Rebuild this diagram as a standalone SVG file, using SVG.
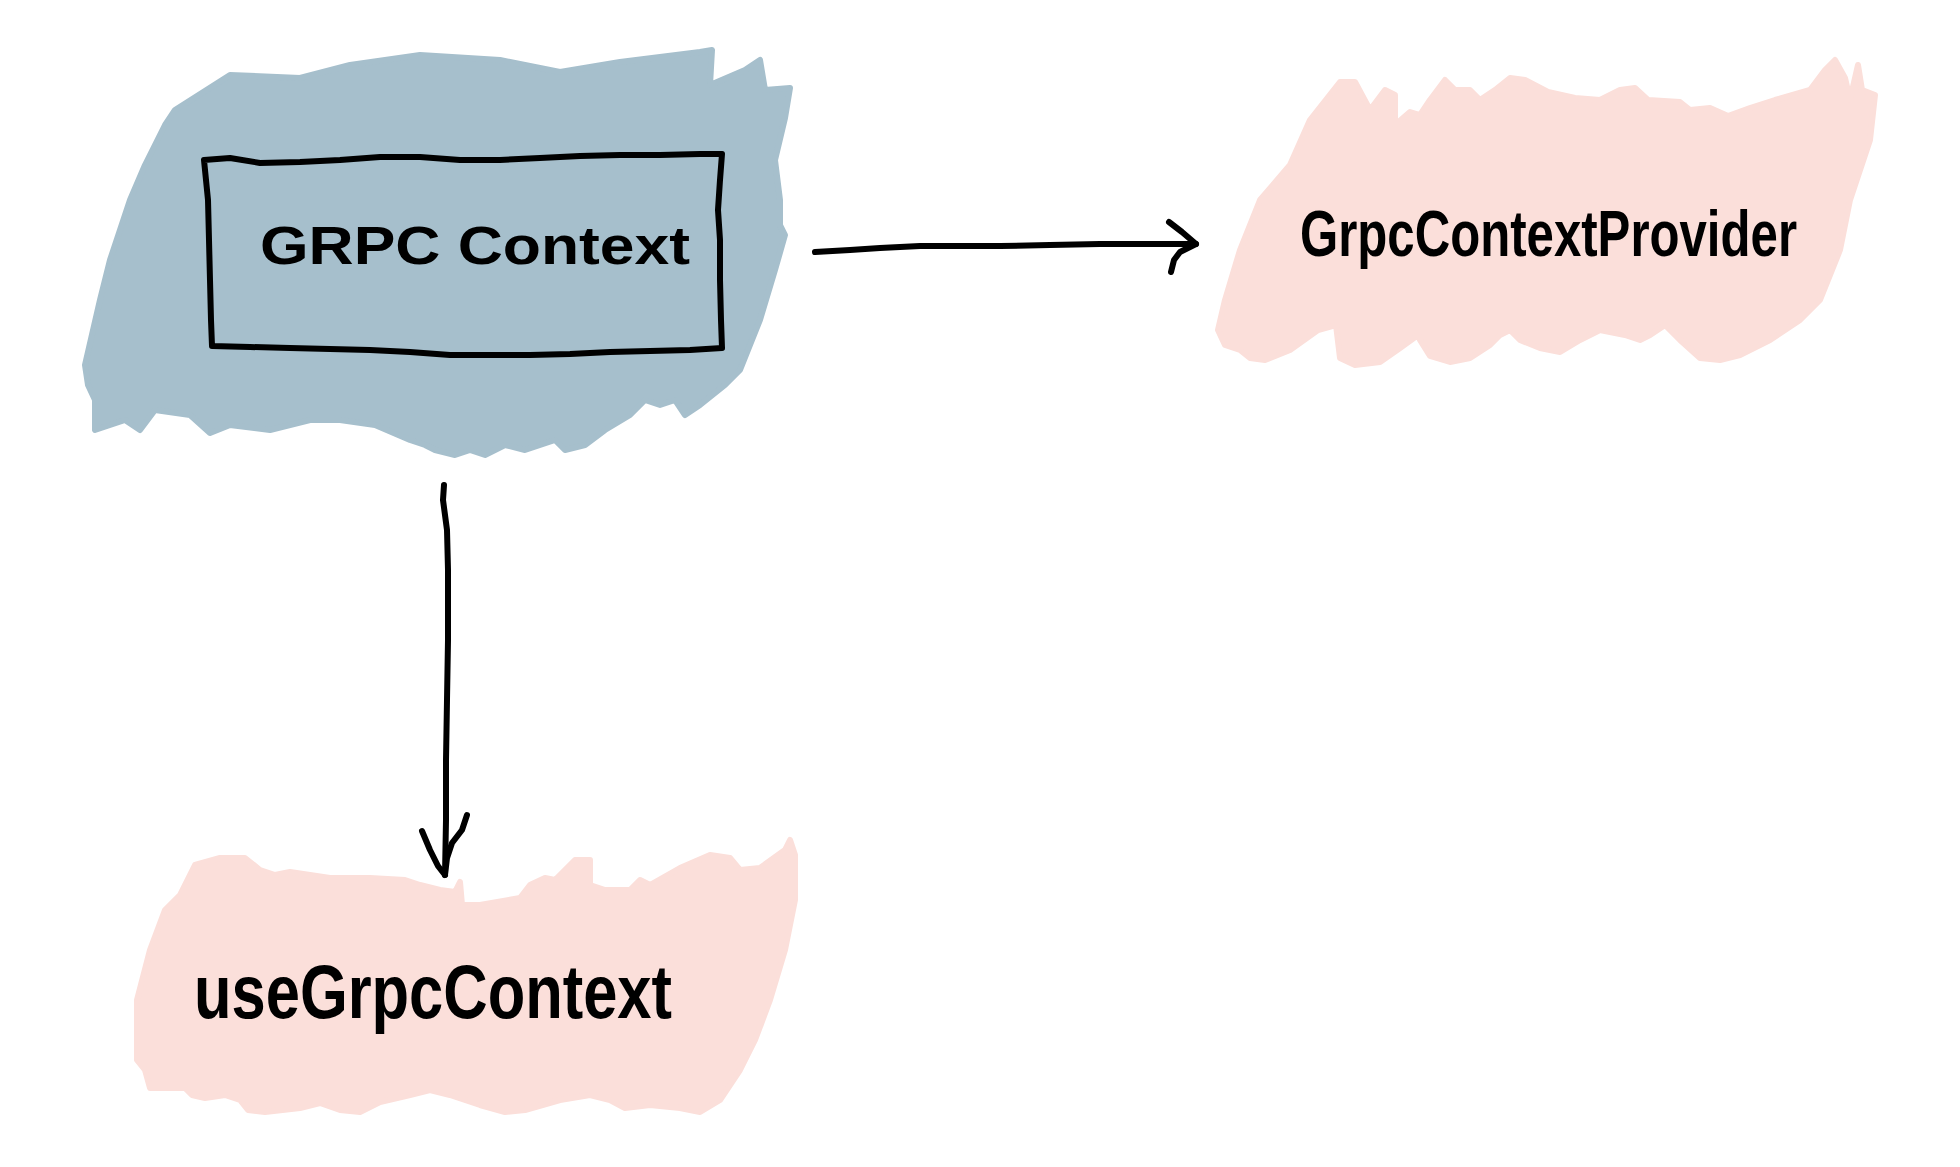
<svg xmlns="http://www.w3.org/2000/svg" width="1960" height="1167" viewBox="0 0 1960 1167">
<style>
.blue{fill:#a6bfcc;stroke:#a6bfcc;stroke-width:6;stroke-linejoin:round}
.pink{fill:#fbdfda;stroke:#fbdfda;stroke-width:6;stroke-linejoin:round}
.ink{fill:none;stroke:#000;stroke-width:6;stroke-linecap:round;stroke-linejoin:round}
.lbl{font-family:"Liberation Sans","DejaVu Sans",sans-serif;fill:#000;font-weight:bold}
</style>
<rect width="1960" height="1167" fill="#fff"/>
<g id="node-grpc-context">
<path class="blue" d="M175,110 L230,75 L300,78 L350,65 L420,55 L500,60 L560,72 L620,62 L700,52 L712,50 L710,85 L745,70 L760,60 L765,90 L790,88 L785,118 L775,160 L780,200 L780,225 L785,235 L775,270 L760,320 L740,370 L725,385 L700,405 L685,415 L675,400 L660,405 L645,400 L630,415 L605,430 L585,445 L565,450 L555,440 L525,450 L505,445 L485,455 L470,450 L455,455 L435,450 L425,445 L410,440 L375,425 L340,420 L310,420 L270,430 L230,425 L210,433 L190,415 L155,410 L140,430 L125,420 L110,425 L95,430 L95,400 L88,385 L85,365 L100,300 L110,260 L130,200 L145,165 L165,125 Z"/>
<path class="ink" d="M204,160 L230,158 L260,163 L300,162 L340,160 L380,157 L420,157 L460,160 L500,160 L540,158 L580,156 L620,155 L660,155 L700,154 L722,154 M722,154 L720,180 L718,210 L720,240 L720,280 L721,320 L722,348 M722,348 L690,350 L650,351 L610,352 L570,354 L530,355 L490,355 L450,355 L410,352 L370,350 L330,349 L290,348 L250,347 L212,346 M212,346 L211,320 L210,280 L209,240 L208,200 L204,160"/>
<text class="lbl" x="260" y="264" font-size="54" textLength="430" lengthAdjust="spacingAndGlyphs">GRPC  Context</text>
</g>
<g id="node-grpc-context-provider">
<path class="pink" d="M1290,165 L1310,120 L1340,82 L1355,82 L1370,110 L1385,90 L1395,95 L1395,125 L1410,112 L1420,115 L1430,100 L1445,80 L1455,90 L1470,90 L1480,100 L1495,90 L1510,78 L1525,80 L1548,92 L1575,98 L1600,100 L1620,90 L1635,88 L1648,100 L1680,102 L1690,110 L1710,108 L1728,116 L1750,108 L1775,100 L1810,90 L1825,70 L1835,60 L1845,78 L1850,100 L1858,65 L1862,90 L1875,95 L1870,140 L1850,200 L1840,250 L1820,300 L1800,320 L1770,340 L1740,355 L1720,360 L1700,358 L1680,340 L1665,325 L1650,335 L1640,340 L1625,335 L1600,330 L1580,340 L1560,352 L1540,348 L1520,340 L1510,330 L1500,335 L1490,345 L1470,358 L1450,362 L1430,356 L1420,340 L1418,335 L1400,348 L1380,362 L1355,365 L1340,358 L1336,325 L1318,330 L1290,350 L1265,360 L1250,358 L1240,350 L1225,345 L1218,330 L1225,300 L1240,250 L1260,200 Z"/>
<text class="lbl" x="1300" y="256" font-size="64" textLength="497" lengthAdjust="spacingAndGlyphs">GrpcContextProvider</text>
</g>
<g id="node-use-grpc-context">
<path class="pink" d="M180,895 L195,865 L220,858 L245,858 L260,870 L275,875 L290,872 L330,878 L370,878 L405,880 L420,885 L440,890 L455,892 L460,882 L462,905 L480,905 L520,898 L530,885 L545,878 L555,880 L560,875 L575,860 L590,860 L590,885 L605,890 L630,890 L640,880 L650,885 L680,868 L710,855 L730,858 L740,870 L760,868 L785,850 L790,840 L795,855 L795,900 L785,950 L770,1000 L755,1040 L740,1070 L720,1100 L700,1112 L680,1108 L650,1105 L625,1108 L610,1100 L590,1095 L560,1100 L525,1110 L505,1112 L480,1105 L450,1095 L430,1090 L410,1095 L380,1102 L360,1112 L340,1110 L320,1103 L300,1108 L265,1112 L248,1110 L240,1100 L225,1095 L205,1098 L192,1095 L185,1088 L150,1088 L145,1070 L137,1060 L137,1000 L150,950 L165,910 Z"/>
<text class="lbl" x="194" y="1018" font-size="76" textLength="478" lengthAdjust="spacingAndGlyphs">useGrpcContext</text>
</g>
<g id="connectors">
<path class="ink" d="M815,252 L850,250 L880,248 L920,246 L1000,246 L1050,245 L1100,244 L1150,244 L1196,244"/>
<path class="ink" d="M1169,222 L1182,232 L1196,244 M1196,244 L1180,252 L1174,260 L1171,272"/>
<path class="ink" d="M444,485 L443,500 L447,530 L448,570 L448,640 L447,700 L446,760 L446,820 L445,875"/>
<path class="ink" d="M422,831 L430,850 L438,866 L445,875 M445,875 L447,858 L452,843 L462,830 L467,815"/>
</g>
</svg>
